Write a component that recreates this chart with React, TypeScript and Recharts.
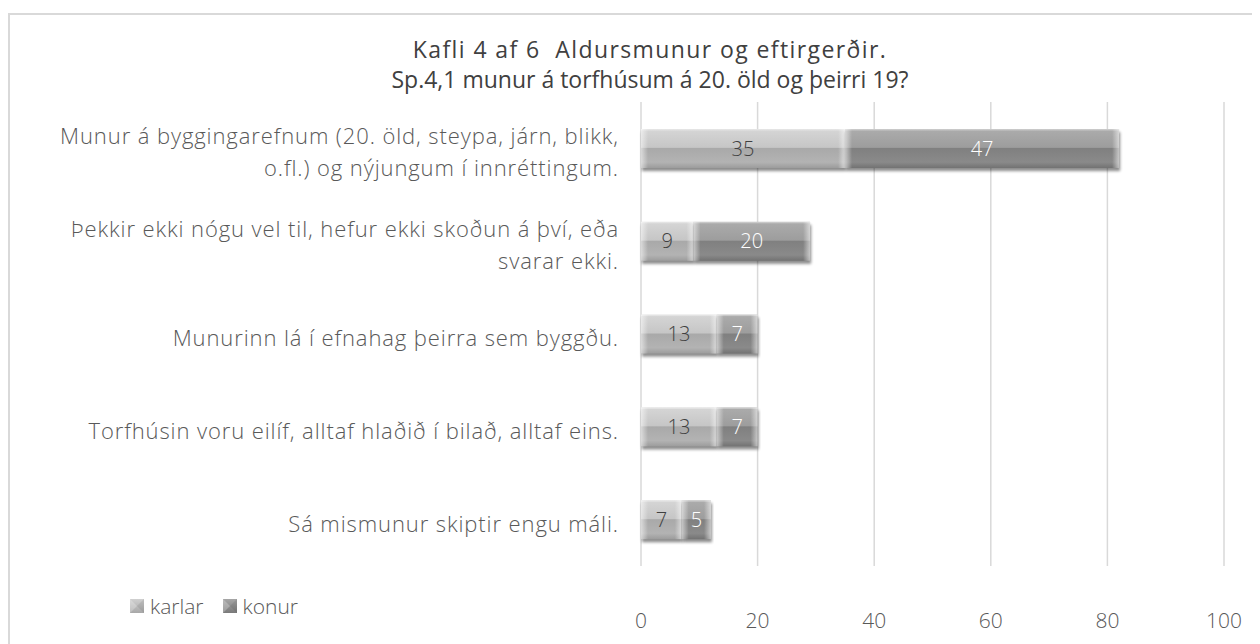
import React from "react";
import { BarChart, Bar, XAxis, YAxis, CartesianGrid, LabelList, Legend } from "recharts";

const titleLines = ["Kafli 4 af 6  Aldursmunur og eftirgerðir.", "Sp.4,1 munur á torfhúsum á 20. öld og þeirri 19?"];
const titleSpacing = [1.4, 0];
const categoryLines: string[][] = [
  ["Munur á byggingarefnum (20. öld, steypa, járn, blikk,", "o.fl.) og nýjungum í innréttingum."],
  ["Þekkir ekki nógu vel til, hefur ekki skoðun á því, eða", "svarar ekki."],
  ["Munurinn lá í efnahag þeirra sem byggðu."],
  ["Torfhúsin voru eilíf, alltaf hlaðið í bilað, alltaf eins."],
  ["Sá mismunur skiptir engu máli."],
];
const categories = categoryLines.map((l) => l.join(" "));
const karlar = [35, 9, 13, 13, 7];
const konur = [47, 20, 7, 7, 5];
const xTicks = [0, 20, 40, 60, 80, 100];

const data = categories.map((c, i) => ({ name: c, karlar: karlar[i], konur: konur[i] }));

const FONT = "'Open Sans', sans-serif";

const makeShape = (id: string) => (props: any) => {
  const { x, y, width, height } = props;
  if (!width || width <= 0) return <g />;
  const bev = Math.min(7, width / 4);
  return (
    <g>
      <rect x={x + 1} y={y + 3} width={width} height={height} fill="#000" opacity={0.45} filter="url(#shBlur)" />
      <rect x={x} y={y} width={width} height={height} fill={`url(#g-${id})`} />
      <rect x={x} y={y} width={bev} height={height} fill="url(#bevL)" />
      <rect x={x + width - bev} y={y} width={bev} height={height} fill="url(#bevR)" />
      <rect x={x} y={y} width={width} height={1.5} fill="#ffffff" opacity={0.35} />
    </g>
  );
};

const CatTick = (props: any) => {
  const { x, y, payload } = props;
  const idx = categories.indexOf(payload.value);
  const lines = idx >= 0 ? categoryLines[idx] : [payload.value];
  const lh = 32;
  const start = y + 3 - ((lines.length - 1) * lh) / 2;
  return (
    <g>
      {lines.map((ln, i) => (
        <text key={i} x={x} y={start + i * lh} textAnchor="end" dominantBaseline="central" fill="#595959" fontSize={22} fontFamily={FONT} fontWeight={300} letterSpacing={0.9}>
          {ln}
        </text>
      ))}
    </g>
  );
};

const LegendIcon = ({ id }: { id: string }) => (
  <svg width={14} height={14} style={{ marginRight: 6 }}>
    <rect x={0} y={0} width={14} height={14} fill={`url(#l-${id})`} />
    <polygon points="0,0 7,7 0,14" fill="#ffffff" opacity={0.25} />
    <polygon points="14,0 7,7 14,14" fill="#000" opacity={0.08} />
  </svg>
);

const renderLegend = () => (
  <div style={{ display: "flex", alignItems: "center", fontFamily: FONT, fontSize: 21, color: "#595959", fontWeight: 300 }}>
    <span style={{ display: "flex", alignItems: "center", marginRight: 19 }}>
      <LegendIcon id="karlar" />karlar
    </span>
    <span style={{ display: "flex", alignItems: "center" }}>
      <LegendIcon id="konur" />konur
    </span>
  </div>
);

export default function App() {
  return (
    <div style={{ position: "relative", width: 1252, height: 636, overflow: "hidden", background: "#fff" }}>
      <svg width={0} height={0} style={{ position: "absolute" }}>
        <defs>
          <linearGradient id="g-karlar" x1="0" y1="0" x2="0" y2="1">
            <stop offset="0" stopColor="#d6d6d6" />
            <stop offset="0.47" stopColor="#c6c6c6" />
            <stop offset="0.5" stopColor="#a9a9a9" />
            <stop offset="0.85" stopColor="#b3b3b3" />
            <stop offset="1" stopColor="#9c9c9c" />
          </linearGradient>
          <linearGradient id="g-konur" x1="0" y1="0" x2="0" y2="1">
            <stop offset="0" stopColor="#acacac" />
            <stop offset="0.47" stopColor="#9d9d9d" />
            <stop offset="0.5" stopColor="#808080" />
            <stop offset="0.85" stopColor="#8a8a8a" />
            <stop offset="1" stopColor="#727272" />
          </linearGradient>
          <linearGradient id="l-karlar" x1="0" y1="0" x2="0" y2="1">
            <stop offset="0" stopColor="#d0d0d0" />
            <stop offset="1" stopColor="#a8a8a8" />
          </linearGradient>
          <linearGradient id="l-konur" x1="0" y1="0" x2="0" y2="1">
            <stop offset="0" stopColor="#a6a6a6" />
            <stop offset="1" stopColor="#7a7a7a" />
          </linearGradient>
          <linearGradient id="bevL" x1="0" y1="0" x2="1" y2="0">
            <stop offset="0" stopColor="#ffffff" stopOpacity={0.55} />
            <stop offset="1" stopColor="#ffffff" stopOpacity={0} />
          </linearGradient>
          <linearGradient id="bevR" x1="0" y1="0" x2="1" y2="0">
            <stop offset="0" stopColor="#ffffff" stopOpacity={0} />
            <stop offset="1" stopColor="#ffffff" stopOpacity={0.55} />
          </linearGradient>
          <filter id="shBlur" x="-5%" y="-20%" width="110%" height="150%">
            <feGaussianBlur stdDeviation="1.6" />
          </filter>
        </defs>
      </svg>
      <div style={{ position: "absolute", left: 0, top: 5, width: 1400, height: 800, border: "2px solid #d9d9d9", boxSizing: "border-box" }} />
      <div style={{ position: "absolute", left: 0, top: 0, width: 1284, textAlign: "center", fontFamily: FONT, fontSize: 23, color: "#404040", lineHeight: "30px", paddingTop: 26 }}>
        {titleLines.map((t, i) => (
          <div key={i} style={{ whiteSpace: "pre", letterSpacing: titleSpacing[i] }}>{t}</div>
        ))}
      </div>
      <div style={{ position: "absolute", left: 0, top: 0 }}>
        <BarChart width={1252} height={636} data={data} layout="vertical" margin={{ top: 94, right: 36, bottom: 20, left: 20 }} barSize={39}>
          <CartesianGrid horizontal={false} vertical={true} stroke="#d9d9d9" strokeWidth={1.5} />
          <XAxis type="number" domain={[0, 100]} ticks={xTicks} axisLine={false} tickLine={false} tickMargin={41} height={30}
            tick={{ fill: "#595959", fontSize: 21, fontFamily: FONT, fontWeight: 300 }} interval={0} />
          <YAxis type="category" dataKey="name" width={613} axisLine={false} tickLine={false} tick={<CatTick />} tickMargin={16} interval={0} />
          <Legend content={renderLegend} wrapperStyle={{ position: "absolute", left: 122, top: 584, width: "auto" }} />
          <Bar dataKey="karlar" stackId="a" isAnimationActive={false} shape={makeShape("karlar")} fill="#c0c0c0">
            <LabelList dataKey="karlar" position="center" fill="#404040" fontSize={20} fontFamily={FONT} fontWeight={300} />
          </Bar>
          <Bar dataKey="konur" stackId="a" isAnimationActive={false} shape={makeShape("konur")} fill="#909090">
            <LabelList dataKey="konur" position="center" fill="#ffffff" fontSize={20} fontFamily={FONT} fontWeight={300} />
          </Bar>
        </BarChart>
      </div>
    </div>
  );
}
